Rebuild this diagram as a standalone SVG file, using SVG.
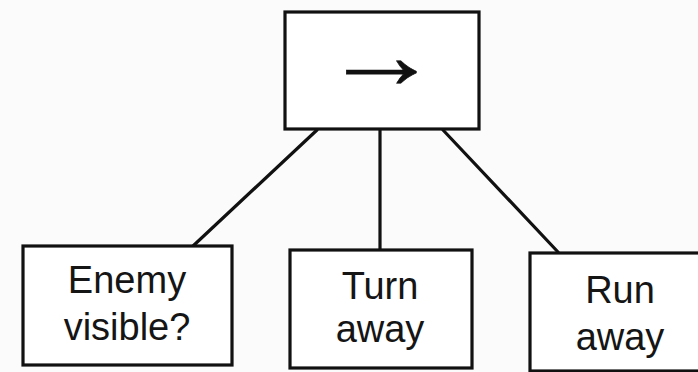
<svg xmlns="http://www.w3.org/2000/svg" width="698" height="372" viewBox="0 0 698 372">
<style>
.box{fill:#fff;stroke:#111;stroke-width:3.2}
.lbl{font-family:"Liberation Sans",Arial,sans-serif;font-size:38px;fill:#151515;text-anchor:middle}
.sym{font-family:"Liberation Serif","Times New Roman",serif;font-size:96px;fill:#111;text-anchor:middle;stroke:#111;stroke-width:0.6}
#connectors line{stroke:#111;stroke-width:3.2;stroke-linecap:round}
</style>
<rect width="698" height="372" fill="#fbfbfb"/>
<g id="connectors">
<line x1="317" y1="130" x2="193" y2="246"/>
<line x1="380" y1="130" x2="380" y2="249"/>
<line x1="443" y1="130" x2="558" y2="252"/>
</g>
<g id="sequence">
<rect class="box" x="285" y="12" width="194" height="117"/>
<text class="sym" transform="translate(381,88) scale(1.23,1)" x="0" y="0">→</text>
</g>
<g id="enemy-visible">
<rect class="box" x="23" y="246" width="209" height="119"/>
<text class="lbl" x="127" y="293">Enemy</text>
<text class="lbl" x="127" y="340">visible?</text>
</g>
<g id="turn-away">
<rect class="box" x="290" y="250" width="182" height="118"/>
<text class="lbl" x="380" y="299">Turn</text>
<text class="lbl" x="380" y="342">away</text>
</g>
<g id="run-away">
<rect class="box" x="530" y="253" width="190" height="118"/>
<text class="lbl" x="620" y="303">Run</text>
<text class="lbl" x="620" y="350">away</text>
</g>
</svg>
